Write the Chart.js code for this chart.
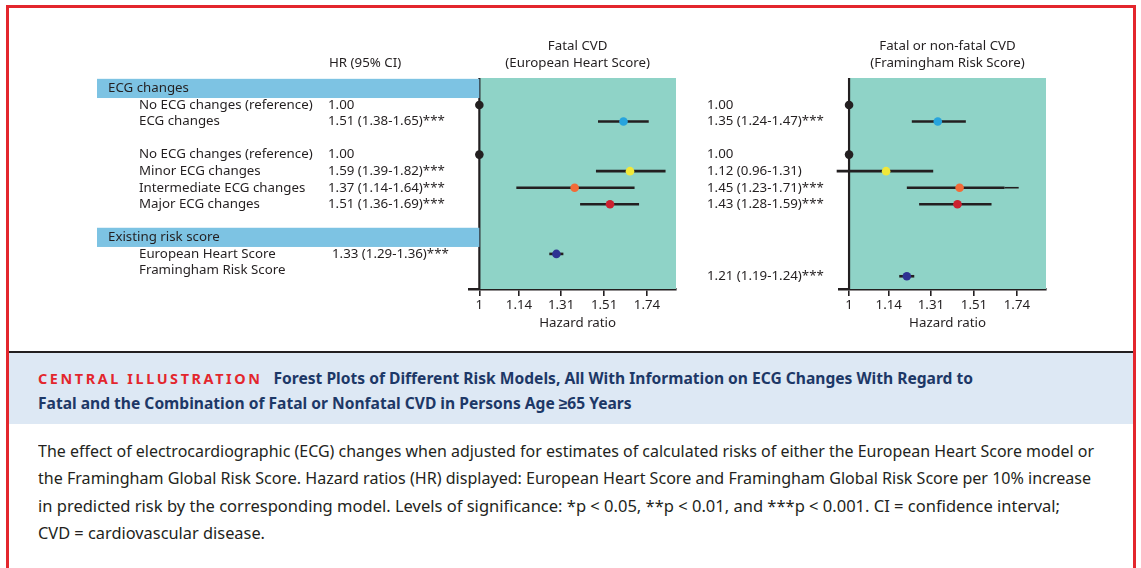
<!DOCTYPE html>
<html><head><meta charset="utf-8">
<script src="https://cdn.jsdelivr.net/npm/chart.js@4.4.0/dist/chart.umd.min.js"></script>
<style>
html,body{margin:0;padding:0;background:#fff;}
#wrap{position:relative;width:1141px;height:568px;overflow:hidden;font-family:"Noto Sans",sans-serif;color:#231f20;}
#frame{position:absolute;left:6px;top:5px;width:1130px;height:620px;border:3px solid #e3262d;box-sizing:border-box;}
#sep{position:absolute;left:9px;top:351px;width:1124px;height:2px;background:#231f20;}
#band{position:absolute;left:9px;top:353px;width:1124px;height:71px;background:#dde8f4;}
#cap{position:absolute;left:38px;top:366px;line-height:24px;font-size:15.6px;font-weight:700;color:#1d3867;white-space:nowrap;}
#cap .ci{color:#e3262d;letter-spacing:2.6px;font-size:14.4px;margin-right:11px;}
#para{position:absolute;left:38px;top:437px;line-height:27.3px;font-size:17px;font-family:"Noto Sans",sans-serif;color:#231f20;white-space:nowrap;}
#para span{display:block;width:max-content;transform-origin:0 50%;}
canvas{position:absolute;top:0;}
#c1{left:0;}
#c2{left:690px;}
</style></head>
<body>
<div id="wrap">
<canvas id="c1" width="690" height="345"></canvas>
<canvas id="c2" width="451" height="345"></canvas>
<div id="sep"></div>
<div id="band"></div>
<div id="cap"><span class="ci">CENTRAL ILLUSTRATION</span>Forest Plots of Different Risk Models, All With Information on ECG Changes With Regard to<br>Fatal and the Combination of Fatal or Nonfatal CVD in Persons Age ≥65 Years</div>
<div id="para"><span data-w="1056">The effect of electrocardiographic (ECG) changes when adjusted for estimates of calculated risks of either the European Heart Score model or</span><span data-w="1053">the Framingham Global Risk Score. Hazard ratios (HR) displayed: European Heart Score and Framingham Global Risk Score per 10% increase</span><span data-w="1022">in predicted risk by the corresponding model. Levels of significance: *p &lt; 0.05, **p &lt; 0.01, and ***p &lt; 0.001. CI = confidence interval;</span><span data-w="227">CVD = cardiovascular disease.</span></div>
<div id="frame"></div>
</div>
<script>
// ---------------- data ----------------
const rowLabels = ['No ECG changes (reference)','ECG changes','No ECG changes (reference)','Minor ECG changes','Intermediate ECG changes','Major ECG changes','European Heart Score','Framingham Risk Score'];
const rowPos = [0,1,3,4,5,6,9,10];
const sectionLabels = ['ECG changes','Existing risk score'];
const sectionPos = [-1,8];
const euroText = ['1.00','1.51 (1.38-1.65)***','1.00','1.59 (1.39-1.82)***','1.37 (1.14-1.64)***','1.51 (1.36-1.69)***','1.33 (1.29-1.36)***',''];
const framText = ['1.00','1.35 (1.24-1.47)***','1.00','1.12 (0.96-1.31)','1.45 (1.23-1.71)***','1.43 (1.28-1.59)***','','1.21 (1.19-1.24)***'];
// hazard ratios as plotted in the picture
const euroHR = [1.00,1.61,1.00,1.645,1.37,1.54,1.29,null];
const euroLo = [null,1.48,null,1.47,1.13,1.395,1.26,null];
const euroHi = [null,1.75,null,1.85,1.67,1.695,1.32,null];
const framHR = [1.00,1.34,1.00,1.13,1.44,1.43,null,1.21];
const framLo = [null,1.23,null,0.96,1.21,1.26,null,1.18];
const framHi = [null,1.47,null,1.32,1.67,1.60,null,1.24];
const framHiThin = [null,null,null,null,1.75,null,null,null];
const framRowPos = [0,1,3,4,5,6,9,10.35];
const dotColors = ['#231f20','#27a4dd','#231f20','#f1e83a','#f26b38','#cc2130','#2e3192','#2e3192'];
const tickValues = [1,1.14,1.31,1.51,1.74];
const tickLabels = ['1','1.14','1.31','1.51','1.74'];
const titles1 = ['Fatal CVD','(European Heart Score)'];
const titles2 = ['Fatal or non-fatal CVD','(Framingham Risk Score)'];
const colHeader = 'HR (95% CI)';
const axisTitle = 'Hazard ratio';

// ---------------- styles ----------------
const FONT = '"Noto Sans", sans-serif';
const FS = 13.3;
const INK = '#231f20';
const TEAL = '#8fd3c7';
const BAND = '#7dc3e3';

// fit paragraph lines to their widths in the reference
document.querySelectorAll('#para span').forEach(s=>{
  const w = s.getBoundingClientRect().width;
  const t = parseFloat(s.dataset.w);
  if(w>0) s.style.transform = 'scaleX(' + (t/w) + ')';
});

function buildDatasets(hr, lo, hi, pos, thin){
  const ds = [];
  const pts = [], cols = [];
  hr.forEach((v,i)=>{ if(v!==null){ pts.push({x:v,y:pos[i]}); cols.push(dotColors[i]); } });
  ds.push({type:'scatter', data:pts, pointBackgroundColor:cols, pointBorderWidth:0, pointRadius:4.3, order:0, clip:false});
  lo.forEach((v,i)=>{
    if(v!==null){
      ds.push({type:'line', data:[{x:v,y:pos[i]},{x:hi[i],y:pos[i]}], borderColor:INK, borderWidth:2.6, pointRadius:0, order:2, clip:false, borderCapStyle:'butt'});
    }
  });
  if(thin){
    thin.forEach((v,i)=>{
      if(v!==null){
        ds.push({type:'line', data:[{x:hi[i],y:pos[i]},{x:v,y:pos[i]}], borderColor:INK, borderWidth:1.6, pointRadius:0, order:3, clip:false});
      }
    });
  }
  return ds;
}

function bgPlugin(){
  return {id:'bg', beforeDatasetsDraw(chart){
    const {ctx, chartArea:a, scales:{x}} = chart;
    const x1 = x.getPixelForValue(1);
    ctx.save();
    ctx.fillStyle = TEAL;
    ctx.fillRect(x1, a.top, a.right - x1, a.bottom - a.top);
    ctx.strokeStyle = INK; ctx.lineWidth = 2.2;
    ctx.beginPath(); ctx.moveTo(x1, a.top); ctx.lineTo(x1, a.bottom); ctx.stroke();
    ctx.restore();
  }};
}

function textPlugin(kind){
  return {id:'txt'+kind, afterDraw(chart){
    const {ctx, chartArea:a, scales:{x,y}} = chart;
    const x1 = x.getPixelForValue(1);
    const cx = (x1 + a.right)/2;
    ctx.save();
    ctx.fillStyle = INK;
    ctx.textBaseline = 'middle';
    ctx.font = FS + 'px ' + FONT;
    ctx.textAlign = 'center';
    const t = kind===1 ? titles1 : titles2;
    ctx.fillText(t[0], cx, 46.5);
    ctx.fillText(t[1], cx, 63);
    ctx.fillText(axisTitle, cx, 323);
    ctx.textAlign = 'left';
    if(kind===1){
      ctx.fillText(colHeader, 329, 63);
      sectionPos.forEach((p,i)=>{
        const yc = y.getPixelForValue(p);
        const h = y.getPixelForValue(p+0.58) - y.getPixelForValue(p-0.58);
        ctx.fillStyle = BAND;
        ctx.fillRect(97, yc - h/2, x1 - 97, h);
        ctx.fillStyle = INK;
        ctx.fillText(sectionLabels[i], 108, yc);
      });
      rowLabels.forEach((l,i)=>{
        const yc = y.getPixelForValue(rowPos[i]);
        ctx.fillText(l, 139, yc);
        if(euroText[i]) ctx.fillText(euroText[i], i===6 ? 332 : 328, yc);
      });
    } else {
      framText.forEach((l,i)=>{
        if(!l) return;
        const yc = y.getPixelForValue(framRowPos[i]);
        ctx.fillText(l, 17, yc);
      });
    }
    ctx.restore();
  }};
}

function makeChart(id, kind, padL, padR, datasets){
  return new Chart(document.getElementById(id), {
    data:{datasets},
    options:{
      responsive:false, animation:false, devicePixelRatio:1,
      layout:{padding:{left:padL, right:padR, top:78, bottom:0}},
      plugins:{legend:{display:false}, tooltip:{enabled:false}, title:{display:false}},
      scales:{
        x:{type:'logarithmic', min:0.968, max:1.915, bounds:'data', position:'bottom',
           afterBuildTicks:(s)=>{ s.ticks = tickValues.map(v=>({value:v})); },
           afterFit:(s)=>{ s.height = 56; },
           ticks:{callback:(v,i)=>tickLabels[i], font:{family:FONT, size:FS}, color:INK, padding:1, maxRotation:0, autoSkip:false},
           grid:{drawOnChartArea:false, drawTicks:true, tickLength:7, color:INK, lineWidth:1.6},
           border:{display:true, color:INK, width:2.5},
           title:{display:false}},
        y:{type:'linear', reverse:true, min:-1.63, max:11.12, display:false}
      }
    },
    plugins:[bgPlugin(), textPlugin(kind)]
  });
}

makeChart('c1', 1, 469.5, 14, buildDatasets(euroHR, euroLo, euroHi, rowPos, null));
makeChart('c2', 2, 149.2, 95, buildDatasets(framHR, framLo, framHi, framRowPos, framHiThin));
</script>
</body></html>
